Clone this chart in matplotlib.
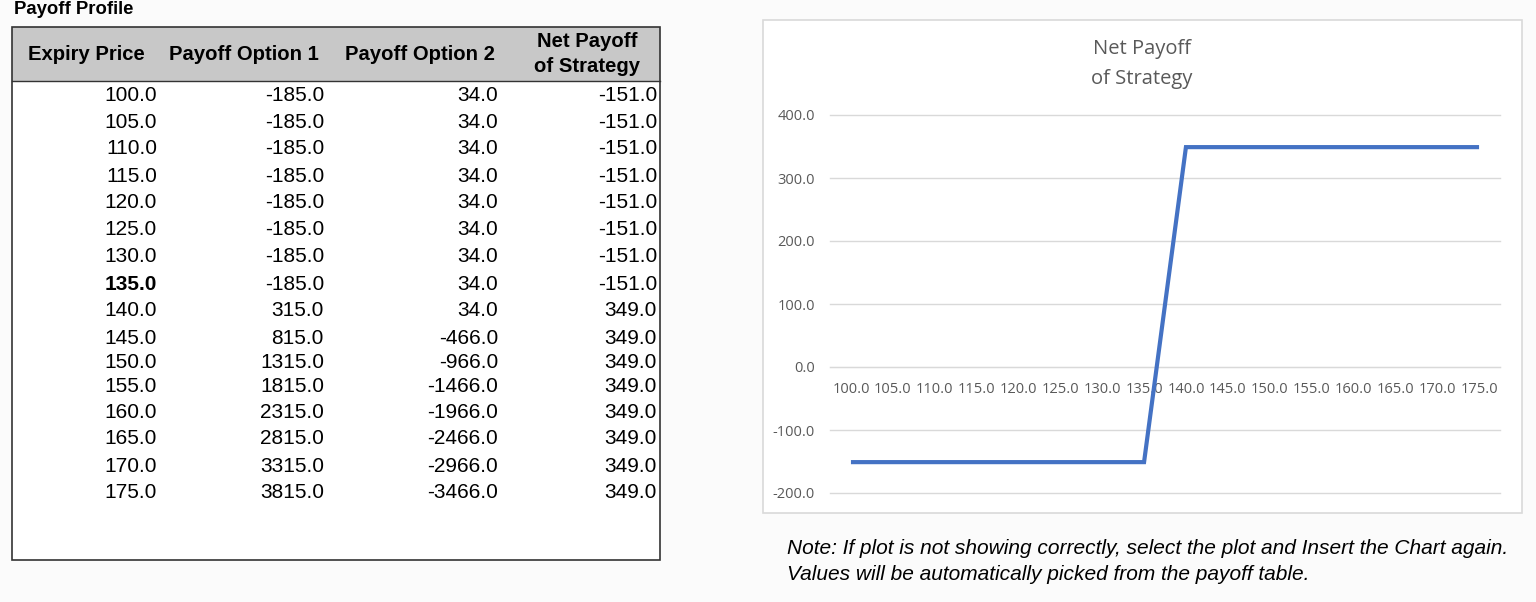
import matplotlib
matplotlib.use("Agg")
import matplotlib.pyplot as plt
from matplotlib.patches import Rectangle
from matplotlib.lines import Line2D

# ---- data ----
expiry = [100.0, 105.0, 110.0, 115.0, 120.0, 125.0, 130.0, 135.0,
          140.0, 145.0, 150.0, 155.0, 160.0, 165.0, 170.0, 175.0]
payoff_option1 = [-185.0, -185.0, -185.0, -185.0, -185.0, -185.0, -185.0, -185.0,
                  315.0, 815.0, 1315.0, 1815.0, 2315.0, 2815.0, 3315.0, 3815.0]
payoff_option2 = [34.0, 34.0, 34.0, 34.0, 34.0, 34.0, 34.0, 34.0,
                  34.0, -466.0, -966.0, -1466.0, -1966.0, -2466.0, -2966.0, -3466.0]
net_payoff = [-151.0, -151.0, -151.0, -151.0, -151.0, -151.0, -151.0, -151.0,
              349.0, 349.0, 349.0, 349.0, 349.0, 349.0, 349.0, 349.0]
headers = ["Expiry Price", "Payoff Option 1", "Payoff Option 2", "Net Payoff\nof Strategy"]
bold_row = 7  # 135.0 highlighted
y_ticks = [-200, -100, 0, 100, 200, 300, 400]

W, H = 1536, 602
fig = plt.figure(figsize=(W / 100, H / 100), dpi=100)
fig.patch.set_facecolor("#fbfbfb")

def fx(x):
    return x / W

def fy(y):
    return 1 - y / H

TFONT = ["Liberation Sans", "DejaVu Sans"]

# ---- title ----
fig.text(fx(14), fy(10), "Payoff Profile", fontsize=13.3, fontweight="bold",
         family=TFONT, ha="left", va="center")

# ---- table ----
box_l, box_r, box_t, box_b = 12, 660, 27, 560
hdr_b = 81
fig.patches.append(Rectangle((fx(box_l), fy(box_b)), fx(box_r - box_l), (box_b - box_t) / H,
                             transform=fig.transFigure, facecolor="white",
                             edgecolor="none", zorder=-3))
fig.patches.append(Rectangle((fx(box_l), fy(hdr_b)), fx(box_r - box_l), (hdr_b - box_t) / H,
                             transform=fig.transFigure, facecolor="#c8c8c8",
                             edgecolor="none", zorder=-2))
fig.patches.append(Rectangle((fx(box_l), fy(box_b)), fx(box_r - box_l), (box_b - box_t) / H,
                             transform=fig.transFigure, facecolor="none",
                             edgecolor="#333333", linewidth=1.2, zorder=-1))
fig.lines.append(Line2D([fx(box_l), fx(box_r)], [fy(hdr_b), fy(hdr_b)],
                        transform=fig.transFigure, color="#333333", linewidth=1.0, zorder=-1))

hdr_centers = [86, 244, 420, 587]
for h, cx in zip(headers, hdr_centers):
    fig.text(fx(cx), fy(54), h, fontsize=14.6, fontweight="bold", family=TFONT,
             ha="center", va="center", linespacing=1.4)

col_right = [157, 324, 498, 657]
# row layout (pixel centres of the spreadsheet rows)
row_y = [96, 122, 149, 176, 203, 230, 257, 284, 311, 338, 363, 387, 413, 439, 466, 492]
n = len(expiry)
columns = [expiry, payoff_option1, payoff_option2, net_payoff]
for i in range(n):
    y = row_y[i]
    for j, col in enumerate(columns):
        fw = "bold" if (j == 0 and i == bold_row) else "normal"
        fig.text(fx(col_right[j]), fy(y), f"{col[i]:.1f}", fontsize=15,
                 fontweight=fw, family=TFONT, ha="right", va="center")

# ---- chart box ----
cb_l, cb_r, cb_t, cb_b = 763, 1522, 20, 513
fig.patches.append(Rectangle((fx(cb_l), fy(cb_b)), fx(cb_r - cb_l), (cb_b - cb_t) / H,
                             transform=fig.transFigure, facecolor="white",
                             edgecolor="#d9d9d9", linewidth=1.2, zorder=-3))

CFONT = ["Open Sans", "DejaVu Sans"]
gray = "#595959"
fig.text(fx(1142), fy(64), "Net Payoff\nof Strategy", fontsize=14.5, color=gray,
         family=CFONT, ha="center", va="center", linespacing=1.65)

ax_l, ax_r, ax_t, ax_b = 830, 1500, 115, 493
ax = fig.add_axes([fx(ax_l), fy(ax_b), fx(ax_r - ax_l), (ax_b - ax_t) / H])
ax.set_facecolor("none")
xs = list(range(n))
ax.plot(xs, net_payoff, color="#4472c4", linewidth=3.0, solid_joinstyle="miter",
        solid_capstyle="butt", zorder=3)
ax.set_xlim(-0.5, n - 0.5)
ax.set_ylim(min(y_ticks), max(y_ticks))
ax.set_yticks(y_ticks)
ax.set_yticklabels([f"{v:.1f}" for v in y_ticks])
ax.set_xticks(xs)
ax.set_xticklabels([f"{v:.1f}" for v in expiry])
ax.grid(axis="y", color="#d9d9d9", linewidth=1.0)
for gl in ax.get_ygridlines():
    gl.set_clip_on(False)
ax.set_axisbelow(True)
for s in ["top", "right", "left"]:
    ax.spines[s].set_visible(False)
ax.spines["bottom"].set_position(("data", 0))
ax.spines["bottom"].set_color("#d9d9d9")
ax.tick_params(axis="both", length=0, colors=gray, labelsize=10.5)
ax.tick_params(axis="y", pad=11)
ax.tick_params(axis="x", pad=11)
for lab in ax.get_xticklabels() + ax.get_yticklabels():
    lab.set_family(CFONT)

# ---- note ----
fig.text(fx(787), fy(548), "Note: If plot is not showing correctly, select the plot and Insert the Chart again.",
         fontsize=15, style="italic", family=TFONT, ha="left", va="center")
fig.text(fx(787), fy(575), "Values will be automatically picked from the payoff table.",
         fontsize=15, style="italic", family=TFONT, ha="left", va="center")

fig.savefig("out.png", dpi=100, facecolor=fig.get_facecolor())
